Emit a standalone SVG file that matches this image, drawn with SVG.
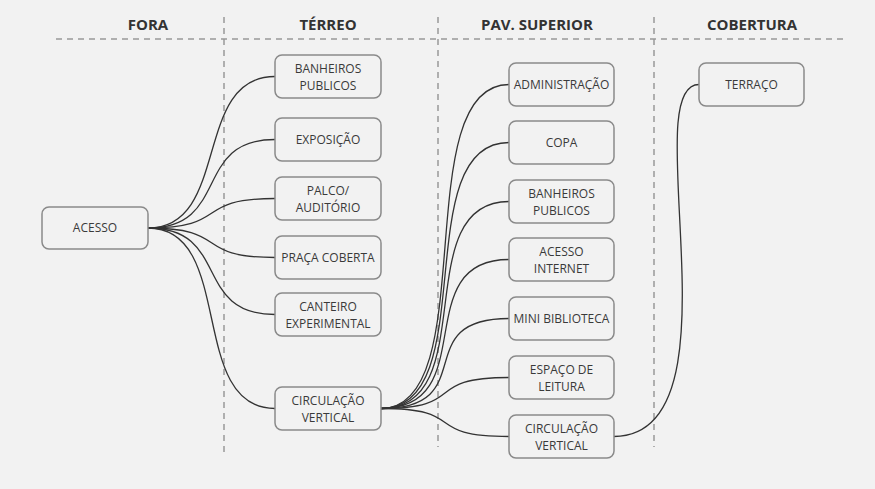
<svg xmlns="http://www.w3.org/2000/svg" width="875" height="489" viewBox="0 0 875 489">
<style>
.bg{fill:#f2f2f2}
.guide{stroke:#999;stroke-width:1.5;stroke-dasharray:6 5;fill:none}
.hdr{font-family:"Open Sans","Liberation Sans",sans-serif;font-weight:bold;font-size:15px;fill:#333;text-anchor:middle}
.box{fill:#f2f2f2;stroke:#8a8a8a;stroke-width:1.5}
.lbl{font-family:"Open Sans","Liberation Sans",sans-serif;font-size:12px;fill:#3a3a3a;text-anchor:middle}
.edge{fill:none;stroke:#333;stroke-width:1.3}
</style>
<rect class="bg" x="0" y="0" width="875" height="489"/>
<g id="guides">
<line class="guide" x1="56" y1="39" x2="847" y2="39"/>
<line class="guide" x1="224" y1="17" x2="224" y2="455"/>
<line class="guide" x1="438" y1="17" x2="438" y2="447"/>
<line class="guide" x1="654" y1="17" x2="654" y2="447"/>
</g>
<g id="headers">
<text class="hdr" x="148" y="30">FORA</text>
<text class="hdr" x="328" y="30">TÉRREO</text>
<text class="hdr" x="537" y="30">PAV. SUPERIOR</text>
<text class="hdr" x="752" y="30">COBERTURA</text>
</g>
<g id="connectors">
<path class="edge" d="M148,228 C231,228 192,76.5 275,76.5"/>
<path class="edge" d="M148,228 C231,228 192,139.5 275,139.5"/>
<path class="edge" d="M148,228 C231,228 192,198.5 275,198.5"/>
<path class="edge" d="M148,228 C231,228 192,257.5 275,257.5"/>
<path class="edge" d="M148,228 C231,228 192,314.5 275,314.5"/>
<path class="edge" d="M148,228 C236,228 187,408.5 275,408.5"/>
<path class="edge" d="M381,408.5 C483,408.5 407,84.5 509,84.5"/>
<path class="edge" d="M381,408.5 C483,408.5 407,142.5 509,142.5"/>
<path class="edge" d="M381,408.5 C483,408.5 407,201.5 509,201.5"/>
<path class="edge" d="M381,408.5 C483,408.5 407,259.5 509,259.5"/>
<path class="edge" d="M381,408.5 C483,408.5 407,318.5 509,318.5"/>
<path class="edge" d="M381,408.5 C470,408.5 420,377.5 509,377.5"/>
<path class="edge" d="M381,408.5 C470,408.5 420,436.5 509,436.5"/>
<path class="edge" d="M614,436.5 C745,436.5 635,84.5 699,84.5"/>
</g>
<g id="acesso"><rect class="box" x="42" y="207" width="106" height="42" rx="7"/><text class="lbl" x="95" y="232">ACESSO</text></g>
<g id="t-banheiros"><rect class="box" x="275" y="55" width="106" height="43" rx="7"/><text class="lbl" x="328" y="72.5">BANHEIROS</text><text class="lbl" x="328" y="89.5">PUBLICOS</text></g>
<g id="t-exposicao"><rect class="box" x="275" y="118" width="106" height="43" rx="7"/><text class="lbl" x="328" y="144">EXPOSIÇÃO</text></g>
<g id="t-palco"><rect class="box" x="275" y="177" width="106" height="43" rx="7"/><text class="lbl" x="328" y="194.5">PALCO/</text><text class="lbl" x="328" y="211.5">AUDITÓRIO</text></g>
<g id="t-praca"><rect class="box" x="275" y="236" width="106" height="43" rx="7"/><text class="lbl" x="328" y="262">PRAÇA COBERTA</text></g>
<g id="t-canteiro"><rect class="box" x="275" y="293" width="106" height="43" rx="7"/><text class="lbl" x="328" y="310.5">CANTEIRO</text><text class="lbl" x="328" y="327.5">EXPERIMENTAL</text></g>
<g id="t-circulacao"><rect class="box" x="275" y="387" width="106" height="43" rx="7"/><text class="lbl" x="328" y="404.5">CIRCULAÇÃO</text><text class="lbl" x="328" y="421.5">VERTICAL</text></g>
<g id="s-administracao"><rect class="box" x="509" y="63" width="105" height="43" rx="7"/><text class="lbl" x="561.5" y="89">ADMINISTRAÇÃO</text></g>
<g id="s-copa"><rect class="box" x="509" y="121" width="105" height="43" rx="7"/><text class="lbl" x="561.5" y="147">COPA</text></g>
<g id="s-banheiros"><rect class="box" x="509" y="180" width="105" height="43" rx="7"/><text class="lbl" x="561.5" y="197.5">BANHEIROS</text><text class="lbl" x="561.5" y="214.5">PUBLICOS</text></g>
<g id="s-internet"><rect class="box" x="509" y="238" width="105" height="43" rx="7"/><text class="lbl" x="561.5" y="255.5">ACESSO</text><text class="lbl" x="561.5" y="272.5">INTERNET</text></g>
<g id="s-biblioteca"><rect class="box" x="509" y="297" width="105" height="43" rx="7"/><text class="lbl" x="561.5" y="323">MINI BIBLIOTECA</text></g>
<g id="s-leitura"><rect class="box" x="509" y="356" width="105" height="43" rx="7"/><text class="lbl" x="561.5" y="373.5">ESPAÇO DE</text><text class="lbl" x="561.5" y="390.5">LEITURA</text></g>
<g id="s-circulacao"><rect class="box" x="509" y="415" width="105" height="43" rx="7"/><text class="lbl" x="561.5" y="432.5">CIRCULAÇÃO</text><text class="lbl" x="561.5" y="449.5">VERTICAL</text></g>
<g id="c-terraco"><rect class="box" x="699" y="63" width="105" height="43" rx="7"/><text class="lbl" x="751.5" y="89">TERRAÇO</text></g>
</svg>
